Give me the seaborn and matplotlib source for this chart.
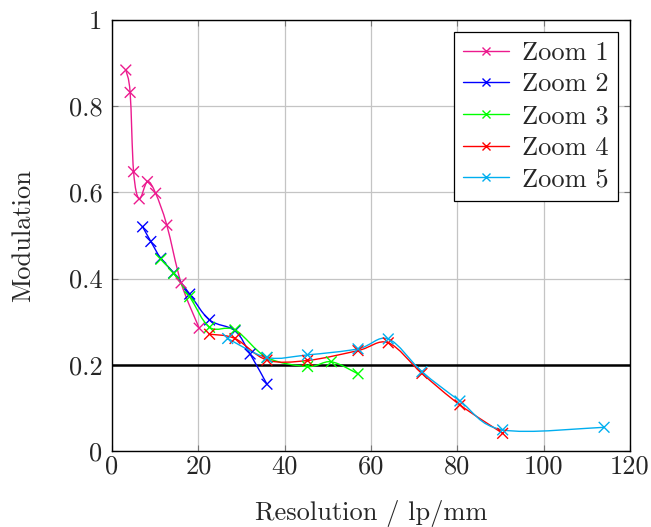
import numpy as np
import pandas as pd
import matplotlib
matplotlib.use("Agg")
import matplotlib.pyplot as plt
from matplotlib.path import Path
from matplotlib.patches import PathPatch
from matplotlib.lines import Line2D
import seaborn as sns

# ---- data ----
series_names = ["Zoom 1", "Zoom 2", "Zoom 3", "Zoom 4", "Zoom 5"]
zoom1_x = [3.2, 4.2, 5.0, 6.3, 8.2, 10.1, 12.7, 16.0, 20.2]
zoom1_y = [0.884, 0.832, 0.648, 0.585, 0.625, 0.598, 0.524, 0.390, 0.285]
zoom2_x = [7.1, 9.0, 11.3, 14.3, 18.0, 22.6, 28.5, 32.0, 35.9]
zoom2_y = [0.520, 0.486, 0.447, 0.413, 0.364, 0.304, 0.279, 0.225, 0.155]
zoom3_x = [11.3, 14.3, 18.0, 22.6, 28.5, 35.9, 45.3, 50.8, 57.0]
zoom3_y = [0.445, 0.412, 0.358, 0.287, 0.281, 0.217, 0.196, 0.207, 0.179]
zoom4_x = [22.6, 28.5, 35.9, 45.3, 57.0, 64.0, 71.8, 80.6, 90.5]
zoom4_y = [0.271, 0.261, 0.211, 0.210, 0.233, 0.251, 0.180, 0.107, 0.041]
zoom5_x = [26.8, 35.9, 45.3, 57.0, 64.0, 71.8, 80.6, 90.5, 114.0]
zoom5_y = [0.261, 0.217, 0.223, 0.237, 0.260, 0.184, 0.116, 0.049, 0.055]
threshold = 0.2
x_ticks = [0, 20, 40, 60, 80, 100, 120]
y_ticks = [0, 0.2, 0.4, 0.6, 0.8, 1]
y_tick_labels = ["0", "0.2", "0.4", "0.6", "0.8", "1"]

colors = ["#ec1a8e", "#0000ff", "#00ff00", "#ff0000", "#00aeef"]

all_x = [zoom1_x, zoom2_x, zoom3_x, zoom4_x, zoom5_x]
all_y = [zoom1_y, zoom2_y, zoom3_y, zoom4_y, zoom5_y]
df = pd.concat(
    [pd.DataFrame({"x": xs, "y": ys, "series": n}) for xs, ys, n in zip(all_x, all_y, series_names)],
    ignore_index=True,
)

# ---- style ----
sns.set_theme(style="white")
plt.rcParams["font.family"] = ["cmr10", "DejaVu Serif"]
plt.rcParams["mathtext.fontset"] = "cm"
plt.rcParams["axes.formatter.use_mathtext"] = True

FS = 19

fig = plt.figure(figsize=(6.51, 5.27), dpi=100)
ax = fig.add_axes([112 / 651, 1 - 451 / 527, (630 - 112) / 651, (451 - 20) / 527])


def smooth_path(xs, ys, k=1.0 / 6.0):
    """Catmull-Rom style cubic Bezier through the points (like pgfplots 'smooth')."""
    p = np.column_stack([xs, ys]).astype(float)
    n = len(p)
    verts = [p[0]]
    codes = [Path.MOVETO]
    for i in range(n - 1):
        prev_p = p[i - 1] if i > 0 else p[i]
        next_p = p[i + 2] if i + 2 < n else p[i + 1]
        c1 = p[i] + k * (p[i + 1] - prev_p)
        c2 = p[i + 1] - k * (next_p - p[i])
        verts += [c1, c2, p[i + 1]]
        codes += [Path.CURVE4] * 3
    return Path(verts, codes)


handles = []
for name, c in zip(series_names, colors):
    sub = df[df["series"] == name]
    patch = PathPatch(smooth_path(sub["x"].values, sub["y"].values), facecolor="none",
                      edgecolor=c, lw=1.0, zorder=3)
    ax.add_patch(patch)
    handles.append(Line2D([], [], color=c, lw=1.0, marker="x", markersize=6, markeredgewidth=1.0))

sns.scatterplot(data=df, x="x", y="y", hue="series", palette=colors, marker="x",
                s=60, linewidth=1.0, legend=False, ax=ax, zorder=4)

ax.axhline(threshold, color="black", lw=1.8, zorder=2.5)

ax.set_xlim(0, 120)
ax.set_ylim(0, 1)
ax.set_xticks(x_ticks)
ax.set_xticklabels([str(t) for t in x_ticks])
ax.set_yticks(y_ticks)
ax.set_yticklabels(y_tick_labels)
ax.grid(True, color="#c4c4c4", lw=0.9)
ax.set_axisbelow(True)
for s in ax.spines.values():
    s.set_color("black")
    s.set_linewidth(1.0)
ax.tick_params(direction="in", length=4, width=0.8, color="#777777", labelsize=FS,
               top=True, right=True, bottom=True, left=True)
ax.tick_params(axis="y", pad=7)
ax.tick_params(axis="x", pad=3)
ax.set_xlabel("Resolution / lp/mm", fontsize=FS, labelpad=15)
ax.set_ylabel("Modulation", fontsize=FS, labelpad=24)

leg = ax.legend(handles, series_names, loc="upper right", fontsize=FS, frameon=True,
                fancybox=False, edgecolor="black", framealpha=1, handlelength=1.75,
                borderaxespad=0.45, labelspacing=0.3, handletextpad=0.5, borderpad=0.35)
leg.get_frame().set_linewidth(0.9)

fig.savefig("out.png", dpi=100)
